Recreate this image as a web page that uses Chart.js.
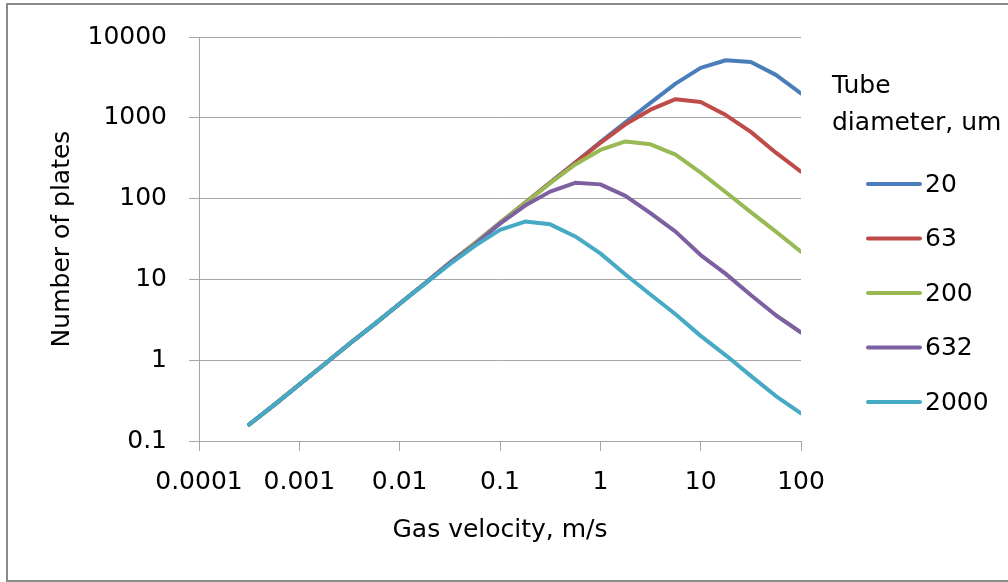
<!DOCTYPE html>
<html><head><meta charset="utf-8">
<script src="https://cdn.jsdelivr.net/npm/chart.js@4/dist/chart.umd.min.js"></script>
<style>html,body{margin:0;padding:0;background:#fff;overflow:hidden}#wrap{position:relative;width:1008px;height:582px}</style>
</head><body><div id="wrap"><canvas id="c" width="1008" height="582"></canvas></div>
<script>
// ---- data ----
const velocity = [0.000316, 0.000562, 0.001, 0.00178, 0.00316, 0.00562, 0.01, 0.0178, 0.0316, 0.0562, 0.1, 0.178, 0.316, 0.562, 1, 1.78, 3.16, 5.62, 10, 17.8, 31.6, 56.2, 100];
const diameters = ["20", "63", "200", "632", "2000"];
const plates20   = [0.16, 0.28, 0.5, 0.89, 1.6, 2.8, 5, 8.9, 16, 28, 50, 89, 158, 280, 500, 880, 1530, 2650, 4150, 5150, 4900, 3400, 2000];
const plates63   = [0.16, 0.28, 0.5, 0.89, 1.6, 2.8, 5, 8.9, 16, 28, 50, 89, 157, 278, 490, 830, 1260, 1700, 1570, 1080, 670, 370, 215];
const plates200  = [0.16, 0.28, 0.5, 0.89, 1.6, 2.8, 5, 8.9, 16, 28, 50, 88, 155, 265, 400, 510, 470, 350, 210, 120, 68, 39, 22];
const plates632  = [0.16, 0.28, 0.5, 0.89, 1.6, 2.8, 5, 8.9, 16, 27, 49, 82, 122, 157, 150, 108, 66, 39, 20, 11.7, 6.4, 3.6, 2.2];
const plates2000 = [0.16, 0.28, 0.5, 0.89, 1.6, 2.8, 5, 8.8, 15.4, 26, 41, 52, 48, 34, 21, 11.5, 6.5, 3.7, 2.0, 1.15, 0.64, 0.36, 0.22];
const xTicks = [0.0001, 0.001, 0.01, 0.1, 1, 10, 100];
const xTickLabels = ["0.0001", "0.001", "0.01", "0.1", "1", "10", "100"];
const yTicks = [0.1, 1, 10, 100, 1000, 10000];
const yTickLabels = ["0.1", "1", "10", "100", "1000", "10000"];
const xTitle = "Gas velocity, m/s";
const yTitle = "Number of plates";
const legendTitle = ["Tube", "diameter, um"];

// ---- styles ----
const seriesValues = [plates20, plates63, plates200, plates632, plates2000];
const colors = ["#4A7EBB", "#BE4B48", "#98B954", "#7D60A0", "#46AAC5"];
const FONT = '"DejaVu Sans", "Open Sans", sans-serif';
const FS = 25;
const GRID = "#a6a6a6";

const datasets = seriesValues.map((vals, i) => ({
  label: diameters[i],
  data: velocity.map((v, j) => ({ x: v, y: vals[j] })),
  borderColor: colors[i],
  backgroundColor: colors[i],
  borderWidth: 4,
  pointRadius: 0,
  tension: 0,
  borderJoinStyle: "round",
  borderCapStyle: "round",
  fill: false,
  order: seriesValues.length - i
}));

const framePlugin = {
  id: "frame",
  beforeDraw(chart) {
    const ctx = chart.ctx;
    ctx.save();
    ctx.fillStyle = "#fff";
    ctx.fillRect(0, 0, chart.width, chart.height);
    ctx.strokeStyle = "#8a8a8a";
    ctx.lineWidth = 2;
    ctx.strokeRect(7, 4, 1010, 577);
    ctx.restore();
  }
};

const legendPlugin = {
  id: "customLegend",
  afterDraw(chart) {
    const ctx = chart.ctx;
    ctx.save();
    ctx.font = FS + "px " + FONT;
    ctx.fillStyle = "#000";
    ctx.textBaseline = "middle";
    ctx.textAlign = "left";
    legendTitle.forEach((t, k) => ctx.fillText(t, 832, 86 + k * 37));
    chart.data.datasets.forEach((ds, i) => {
      const y = 184 + i * 54.5;
      ctx.strokeStyle = ds.borderColor;
      ctx.lineWidth = 4;
      ctx.lineCap = "round";
      ctx.beginPath();
      ctx.moveTo(868, y);
      ctx.lineTo(920, y);
      ctx.stroke();
      ctx.fillText(ds.label, 925, y + 1);
    });
    ctx.restore();
  }
};

new Chart(document.getElementById("c"), {
  type: "line",
  data: { datasets },
  options: {
    responsive: false,
    animation: false,
    events: [],
    layout: { padding: { left: 0, right: 207, top: 37, bottom: 0 } },
    plugins: { legend: { display: false }, tooltip: { enabled: false } },
    scales: {
      x: {
        type: "logarithmic",
        position: "bottom",
        min: 0.0001,
        max: 100,
        afterBuildTicks: s => { s.ticks = xTicks.map(v => ({ value: v })); },
        afterFit: s => { s.height = 141; },
        ticks: {
          autoSkip: false, maxRotation: 0, minRotation: 0,
          color: "#000", font: { family: FONT, size: FS }, padding: 16,
          callback: (v, i) => xTickLabels[i]
        },
        grid: { drawOnChartArea: false, drawTicks: true, tickLength: 10, color: GRID, lineWidth: 1 },
        border: { color: GRID, width: 1 },
        title: { display: true, text: xTitle, color: "#000", font: { family: FONT, size: FS }, padding: { top: 0, bottom: 37 } }
      },
      y: {
        type: "logarithmic",
        position: "left",
        min: 0.1,
        max: 10000,
        afterBuildTicks: s => { s.ticks = yTicks.map(v => ({ value: v })); },
        afterFit: s => { s.width = 199; },
        ticks: {
          autoSkip: false,
          color: "#000", font: { family: FONT, size: FS }, padding: 22,
          callback: (v, i) => yTickLabels[i]
        },
        grid: { drawOnChartArea: true, drawTicks: true, tickLength: 10, color: GRID, lineWidth: 1 },
        border: { color: GRID, width: 1 },
        title: { display: true, text: yTitle, color: "#000", font: { family: FONT, size: FS }, padding: { top: 47, bottom: 0 } }
      }
    }
  },
  plugins: [framePlugin, legendPlugin]
});
</script></body></html>
